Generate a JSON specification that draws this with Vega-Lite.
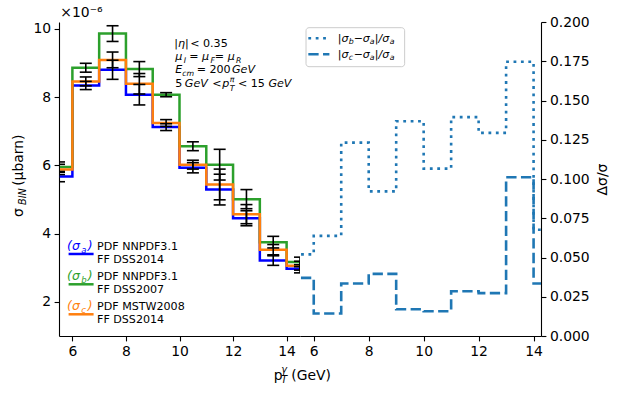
{
  "$schema": "https://vega.github.io/schema/vega-lite/v6.json",
  "padding": {"left": 11, "top": 6, "right": 5, "bottom": 5},
  "bounds": "flush",
  "spacing": 0,
  "config": {
    "view": {"stroke": null},
    "font": "DejaVu Sans",
    "axis": {"labelFont": "DejaVu Sans", "labelFontSize": 13.9, "labelColor": "black", "tickColor": "black", "domainColor": "black", "tickSize": 4.9, "tickWidth": 1.1, "domainWidth": 1.1, "grid": false, "labelPadding": 3.5, "titleFont": "DejaVu Sans", "titleFontSize": 13.9, "titleColor": "black", "titleFontWeight": "normal", "labelFlush": false, "labelOverlap": false},
    "text": {"font": "DejaVu Sans", "color": "black"}
  },
  "datasets": {
    "hist": [
      {"x": 5, "s": "a", "y": 5.67}, {"x": 6, "s": "a", "y": 8.34}, {"x": 7, "s": "a", "y": 8.80}, {"x": 8, "s": "a", "y": 8.07}, {"x": 9, "s": "a", "y": 7.12}, {"x": 10, "s": "a", "y": 5.93}, {"x": 11, "s": "a", "y": 5.29}, {"x": 12, "s": "a", "y": 4.45}, {"x": 13, "s": "a", "y": 3.21}, {"x": 14, "s": "a", "y": 2.97}, {"x": 15, "s": "a", "y": 2.97},
      {"x": 5, "s": "b", "y": 5.95}, {"x": 6, "s": "b", "y": 8.86}, {"x": 7, "s": "b", "y": 9.86}, {"x": 8, "s": "b", "y": 8.82}, {"x": 9, "s": "b", "y": 8.07}, {"x": 10, "s": "b", "y": 6.56}, {"x": 11, "s": "b", "y": 6.02}, {"x": 12, "s": "b", "y": 5.01}, {"x": 13, "s": "b", "y": 3.75}, {"x": 14, "s": "b", "y": 3.17}, {"x": 15, "s": "b", "y": 3.17},
      {"x": 5, "s": "c", "y": 5.88}, {"x": 6, "s": "c", "y": 8.46}, {"x": 7, "s": "c", "y": 9.09}, {"x": 8, "s": "c", "y": 8.39}, {"x": 9, "s": "c", "y": 7.24}, {"x": 10, "s": "c", "y": 6.02}, {"x": 11, "s": "c", "y": 5.44}, {"x": 12, "s": "c", "y": 4.57}, {"x": 13, "s": "c", "y": 3.53}, {"x": 14, "s": "c", "y": 3.06}, {"x": 15, "s": "c", "y": 3.06}
    ],
    "err": [
      {"x": 5.5, "s": "a", "lo": 5.52, "hi": 5.82}, {"x": 5.5, "s": "b", "lo": 5.80, "hi": 6.10}, {"x": 5.5, "s": "c", "lo": 5.73, "hi": 6.03},
      {"x": 6.5, "s": "a", "lo": 8.22, "hi": 8.46}, {"x": 6.5, "s": "b", "lo": 8.73, "hi": 8.99}, {"x": 6.5, "s": "c", "lo": 8.33, "hi": 8.59},
      {"x": 7.5, "s": "a", "lo": 8.52, "hi": 9.08}, {"x": 7.5, "s": "b", "lo": 9.63, "hi": 10.09}, {"x": 7.5, "s": "c", "lo": 8.86, "hi": 9.32},
      {"x": 8.5, "s": "a", "lo": 7.77, "hi": 8.37}, {"x": 8.5, "s": "b", "lo": 8.60, "hi": 9.04}, {"x": 8.5, "s": "c", "lo": 8.09, "hi": 8.69},
      {"x": 9.5, "s": "a", "lo": 7.02, "hi": 7.22}, {"x": 9.5, "s": "b", "lo": 8.01, "hi": 8.13}, {"x": 9.5, "s": "c", "lo": 7.14, "hi": 7.34},
      {"x": 10.5, "s": "a", "lo": 5.78, "hi": 6.08}, {"x": 10.5, "s": "b", "lo": 6.43, "hi": 6.69}, {"x": 10.5, "s": "c", "lo": 5.89, "hi": 6.15},
      {"x": 11.5, "s": "a", "lo": 4.84, "hi": 5.74}, {"x": 11.5, "s": "b", "lo": 5.57, "hi": 6.47}, {"x": 11.5, "s": "c", "lo": 4.99, "hi": 5.89},
      {"x": 12.5, "s": "a", "lo": 4.23, "hi": 4.67}, {"x": 12.5, "s": "b", "lo": 4.73, "hi": 5.29}, {"x": 12.5, "s": "c", "lo": 4.29, "hi": 4.85},
      {"x": 13.5, "s": "a", "lo": 3.07, "hi": 3.35}, {"x": 13.5, "s": "b", "lo": 3.58, "hi": 3.92}, {"x": 13.5, "s": "c", "lo": 3.38, "hi": 3.68},
      {"x": 14.5, "s": "a", "lo": 2.85, "hi": 3.09}, {"x": 14.5, "s": "b", "lo": 3.03, "hi": 3.31}, {"x": 14.5, "s": "c", "lo": 2.93, "hi": 3.19}
    ],
    "ratio": [
      {"x": 5, "k": "b", "y": 0.052}, {"x": 6, "k": "b", "y": 0.0638}, {"x": 7, "k": "b", "y": 0.1232}, {"x": 8, "k": "b", "y": 0.0921}, {"x": 9, "k": "b", "y": 0.1368}, {"x": 10, "k": "b", "y": 0.1066}, {"x": 11, "k": "b", "y": 0.1394}, {"x": 12, "k": "b", "y": 0.1294}, {"x": 13, "k": "b", "y": 0.1747}, {"x": 14, "k": "b", "y": 0.0677}, {"x": 15, "k": "b", "y": 0.0677},
      {"x": 5, "k": "c", "y": 0.037}, {"x": 6, "k": "c", "y": 0.0143}, {"x": 7, "k": "c", "y": 0.0334}, {"x": 8, "k": "c", "y": 0.0396}, {"x": 9, "k": "c", "y": 0.017}, {"x": 10, "k": "c", "y": 0.0158}, {"x": 11, "k": "c", "y": 0.0285}, {"x": 12, "k": "c", "y": 0.0273}, {"x": 13, "k": "c", "y": 0.1011}, {"x": 14, "k": "c", "y": 0.0334}, {"x": 15, "k": "c", "y": 0.0334}
    ],
    "annIt": [
      {"x": 9.805, "y": 9.476, "t": "|η|"}, {"x": 9.843, "y": 9.087, "t": "μ"}, {"x": 10.366, "y": 9.087, "t": "= μ"}, {"x": 11.32, "y": 9.087, "t": "= μ"},
      {"x": 9.843, "y": 8.697, "t": "E"}, {"x": 11.96, "y": 8.697, "t": "GeV"},
      {"x": 10.20, "y": 8.304, "t": "GeV"}, {"x": 11.60, "y": 8.304, "t": "p"}, {"x": 13.32, "y": 8.304, "t": "GeV"}
    ],
    "annUp": [
      {"x": 10.40, "y": 9.476, "t": "< 0.35"}, {"x": 10.64, "y": 8.697, "t": "= 200"}, {"x": 9.843, "y": 8.304, "t": "5"}, {"x": 11.22, "y": 8.304, "t": "<"}, {"x": 12.18, "y": 8.304, "t": "< 15"}
    ],
    "annSub": [
      {"x": 10.16, "y": 9.0, "t": "I"}, {"x": 11.16, "y": 9.0, "t": "F"}, {"x": 12.11, "y": 9.0, "t": "R"}, {"x": 10.105, "y": 8.609, "t": "cm"}, {"x": 11.88, "y": 8.45, "t": "π"}, {"x": 11.88, "y": 8.187, "t": "T"}
    ],
    "lgMain": [
      {"x": 5.799, "y": 3.52, "t": "(σ", "s": "a"}, {"x": 6.575, "y": 3.52, "t": ")", "s": "a"},
      {"x": 5.799, "y": 2.641, "t": "(σ", "s": "b"}, {"x": 6.575, "y": 2.641, "t": ")", "s": "b"},
      {"x": 5.799, "y": 1.762, "t": "(σ", "s": "c"}, {"x": 6.575, "y": 1.762, "t": ")", "s": "c"}
    ],
    "lgSub": [
      {"x": 6.333, "y": 3.432, "t": "a", "s": "a"}, {"x": 6.333, "y": 2.553, "t": "b", "s": "b"}, {"x": 6.333, "y": 1.674, "t": "c", "s": "c"}
    ],
    "lgLine": [
      {"x": 5.858, "x2": 6.792, "y": 3.403, "s": "a"}, {"x": 5.858, "x2": 6.792, "y": 2.515, "s": "b"}, {"x": 5.858, "x2": 6.792, "y": 1.636, "s": "c"}
    ],
    "lgText": [
      {"x": 6.919, "y": 3.52, "t": "PDF NNPDF3.1"}, {"x": 6.919, "y": 3.13, "t": "FF DSS2014"},
      {"x": 6.919, "y": 2.641, "t": "PDF NNPDF3.1"}, {"x": 6.919, "y": 2.251, "t": "FF DSS2007"},
      {"x": 6.919, "y": 1.762, "t": "PDF MSTW2008"}, {"x": 6.919, "y": 1.372, "t": "FF DSS2014"}
    ],
    "outUp": [
      {"x": 5.549, "y": 10.338, "t": "×10⁻⁶"}, {"x": 13.52, "y": -0.289, "t": "p"}, {"x": 14.174, "y": -0.289, "t": "(GeV)"}
    ],
    "outSmall": [
      {"x": 13.80, "y": -0.084, "t": "γ"}, {"x": 13.80, "y": -0.376, "t": "T"}
    ],
    "yMain": [
      {"x": 3.999, "y": 4.487, "t": "σ", "f": "italic"}, {"x": 3.999, "y": 5.40, "t": "(μbarn)", "f": "normal"}
    ],
    "ySub": [
      {"x": 4.167, "y": 4.839, "t": "BIN"}
    ],
    "rBox": [
      {"x": 5.719, "x2": 9.308, "y": 0.19637, "y2": 0.17153}
    ],
    "rSamp": [
      {"x": 5.803, "x2": 6.57, "y": 0.18962, "k": "b"}, {"x": 5.803, "x2": 6.57, "y": 0.17943, "k": "c"}
    ],
    "rMain": [
      {"x": 6.876, "y": 0.18726, "t": "|σ"}, {"x": 7.453, "y": 0.18726, "t": "−"}, {"x": 7.782, "y": 0.18726, "t": "σ"}, {"x": 8.22, "y": 0.18726, "t": "|/σ"},
      {"x": 6.876, "y": 0.17707, "t": "|σ"}, {"x": 7.453, "y": 0.17707, "t": "−"}, {"x": 7.782, "y": 0.17707, "t": "σ"}, {"x": 8.22, "y": 0.17707, "t": "|/σ"}
    ],
    "rSub": [
      {"x": 7.27, "y": 0.18567, "t": "b"}, {"x": 8.037, "y": 0.18567, "t": "a"}, {"x": 8.768, "y": 0.18567, "t": "a"},
      {"x": 7.27, "y": 0.17548, "t": "c"}, {"x": 8.037, "y": 0.17548, "t": "a"}, {"x": 8.768, "y": 0.17548, "t": "a"}
    ]
  },
  "hconcat": [
    {
      "width": 241,
      "height": 314,
      "encoding": {
        "x": {"field": "x", "type": "quantitative", "scale": {"domain": [5.5, 14.5], "nice": false, "zero": false}, "axis": {"values": [6, 8, 10, 12, 14], "title": null}},
        "y": {"field": "y", "type": "quantitative", "scale": {"domain": [1, 10.2], "nice": false, "zero": false}, "axis": {"values": [2, 4, 6, 8, 10], "title": null}}
      },
      "layer": [
        {
          "data": {"name": "hist"},
          "mark": {"type": "line", "interpolate": "step-after", "strokeWidth": 2.5, "clip": true},
          "encoding": {"color": {"field": "s", "type": "nominal", "scale": {"domain": ["a", "b", "c"], "range": ["#0000ff", "#2ca02c", "#ff7f0e"]}, "legend": null}}
        },
        {
          "data": {"name": "err"},
          "mark": {"type": "rule", "color": "black", "strokeWidth": 1.6, "clip": true},
          "encoding": {"y": {"field": "lo", "type": "quantitative", "scale": {"domain": [1, 10.2], "nice": false, "zero": false}}, "y2": {"field": "hi"}}
        },
        {
          "data": {"name": "err"},
          "mark": {"type": "tick", "orient": "horizontal", "size": 12, "thickness": 1.6, "color": "black", "clip": true, "opacity": 1},
          "encoding": {"y": {"field": "lo", "type": "quantitative", "scale": {"domain": [1, 10.2], "nice": false, "zero": false}}}
        },
        {
          "data": {"name": "err"},
          "mark": {"type": "tick", "orient": "horizontal", "size": 12, "thickness": 1.6, "color": "black", "clip": true, "opacity": 1},
          "encoding": {"y": {"field": "hi", "type": "quantitative", "scale": {"domain": [1, 10.2], "nice": false, "zero": false}}}
        },
        {
          "mark": {"type": "rule", "color": "black", "strokeWidth": 1.1},
          "encoding": {"x": null, "y": {"datum": 10.2, "type": "quantitative", "scale": {"domain": [1, 10.2], "nice": false, "zero": false}}}
        },
        {
          "data": {"name": "annIt"},
          "mark": {"type": "text", "align": "left", "baseline": "alphabetic", "fontSize": 11.1, "fontStyle": "italic"},
          "encoding": {"text": {"field": "t"}}
        },
        {
          "data": {"name": "annUp"},
          "mark": {"type": "text", "align": "left", "baseline": "alphabetic", "fontSize": 11.1},
          "encoding": {"text": {"field": "t"}}
        },
        {
          "data": {"name": "annSub"},
          "mark": {"type": "text", "align": "left", "baseline": "alphabetic", "fontSize": 7.8, "fontStyle": "italic"},
          "encoding": {"text": {"field": "t"}}
        },
        {
          "data": {"name": "lgLine"},
          "mark": {"type": "rule", "strokeWidth": 2.5},
          "encoding": {"x2": {"field": "x2"}, "color": {"field": "s", "type": "nominal", "legend": null}}
        },
        {
          "data": {"name": "lgMain"},
          "mark": {"type": "text", "align": "left", "baseline": "alphabetic", "fontSize": 12.5, "fontStyle": "italic"},
          "encoding": {"text": {"field": "t"}, "color": {"field": "s", "type": "nominal", "legend": null}}
        },
        {
          "data": {"name": "lgSub"},
          "mark": {"type": "text", "align": "left", "baseline": "alphabetic", "fontSize": 8.5, "fontStyle": "italic"},
          "encoding": {"text": {"field": "t"}, "color": {"field": "s", "type": "nominal", "legend": null}}
        },
        {
          "data": {"name": "lgText"},
          "mark": {"type": "text", "align": "left", "baseline": "alphabetic", "fontSize": 11.1},
          "encoding": {"text": {"field": "t"}}
        },
        {
          "data": {"name": "outUp"},
          "mark": {"type": "text", "align": "left", "baseline": "alphabetic", "fontSize": 13.9},
          "encoding": {"text": {"field": "t"}}
        },
        {
          "data": {"name": "outSmall"},
          "mark": {"type": "text", "align": "left", "baseline": "alphabetic", "fontSize": 9.7, "fontStyle": "italic"},
          "encoding": {"text": {"field": "t"}}
        },
        {
          "data": {"name": "yMain"},
          "mark": {"type": "text", "align": "left", "baseline": "middle", "fontSize": 13.9, "angle": 270},
          "encoding": {"text": {"field": "t"}, "fontStyle": {"field": "f", "type": "nominal", "scale": null}}
        },
        {
          "data": {"name": "ySub"},
          "mark": {"type": "text", "align": "left", "baseline": "middle", "fontSize": 9.7, "fontStyle": "italic", "angle": 270},
          "encoding": {"text": {"field": "t"}}
        }
      ]
    },
    {
      "width": 241,
      "height": 314,
      "encoding": {
        "x": {"field": "x", "type": "quantitative", "scale": {"domain": [5.5, 14.27], "nice": false, "zero": false}, "axis": {"values": [6, 8, 10, 12, 14], "title": null}},
        "y": {"field": "y", "type": "quantitative", "scale": {"domain": [0, 0.2], "nice": false, "zero": false}, "axis": {"orient": "right", "values": [0, 0.025, 0.05, 0.075, 0.1, 0.125, 0.15, 0.175, 0.2], "format": ".3f", "title": "Δσ/σ", "titleAngle": 270, "titleBaseline": "top", "titlePadding": 6}}
      },
      "layer": [
        {
          "data": {"name": "ratio"},
          "mark": {"type": "line", "interpolate": "step-after", "strokeWidth": 2.6, "color": "#1f77b4", "clip": true},
          "encoding": {"strokeDash": {"field": "k", "type": "nominal", "scale": {"domain": ["b", "c"], "range": [[2.8, 4.6], [10.3, 4.4]]}, "legend": null}}
        },
        {
          "mark": {"type": "rule", "color": "black", "strokeWidth": 1.1},
          "encoding": {"x": null, "y": {"datum": 0.2, "type": "quantitative", "scale": {"domain": [0, 0.2], "nice": false, "zero": false}}}
        },
        {
          "mark": {"type": "rule", "color": "#808080", "strokeWidth": 2},
          "encoding": {"y": null, "x": {"datum": 5.5, "type": "quantitative", "scale": {"domain": [5.5, 14.27], "nice": false, "zero": false}}}
        },
        {
          "data": {"name": "rBox"},
          "mark": {"type": "rect", "fill": "white", "fillOpacity": 0.8, "stroke": "#cccccc", "strokeWidth": 1, "cornerRadius": 3},
          "encoding": {"x2": {"field": "x2"}, "y2": {"field": "y2"}}
        },
        {
          "data": {"name": "rSamp"},
          "mark": {"type": "rule", "strokeWidth": 2.6, "color": "#1f77b4"},
          "encoding": {"x2": {"field": "x2"}, "strokeDash": {"field": "k", "type": "nominal", "legend": null}}
        },
        {
          "data": {"name": "rMain"},
          "mark": {"type": "text", "align": "left", "baseline": "alphabetic", "fontSize": 11, "fontStyle": "italic"},
          "encoding": {"text": {"field": "t"}}
        },
        {
          "data": {"name": "rSub"},
          "mark": {"type": "text", "align": "left", "baseline": "alphabetic", "fontSize": 7.8, "fontStyle": "italic"},
          "encoding": {"text": {"field": "t"}}
        }
      ]
    }
  ]
}
